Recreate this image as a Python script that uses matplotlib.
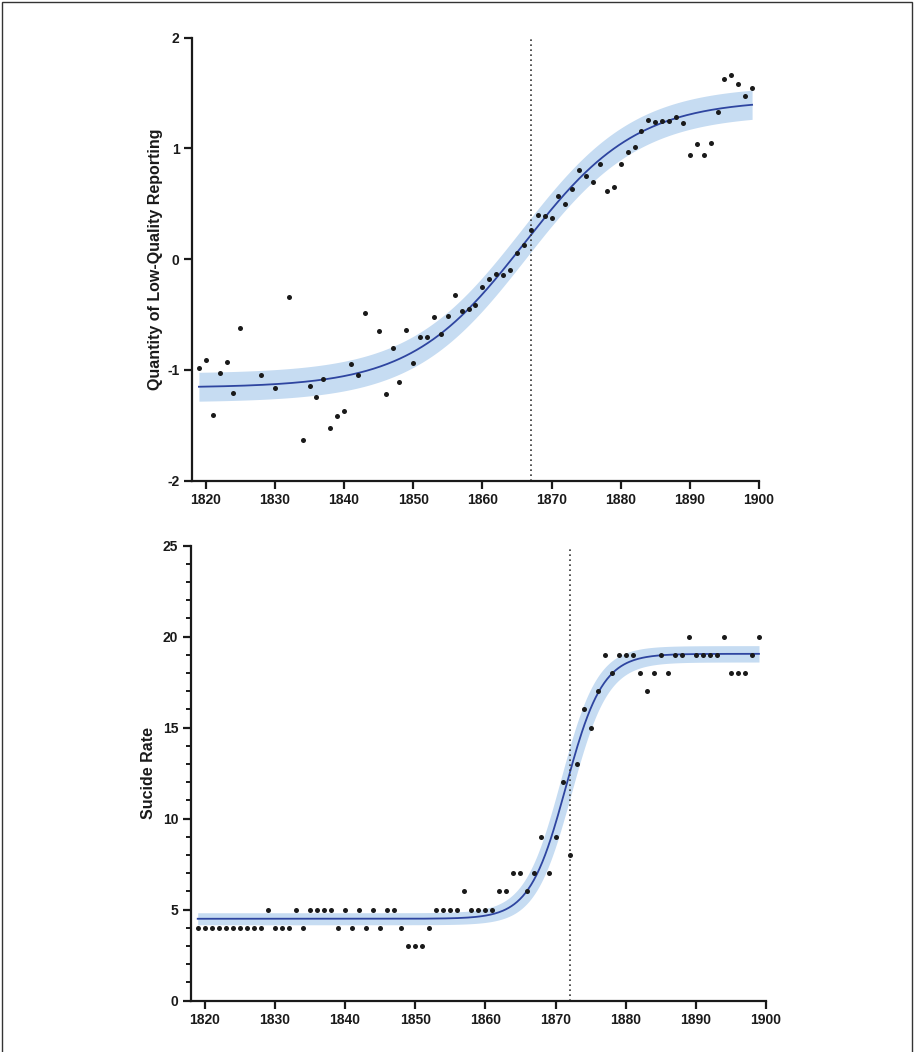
import numpy as np
import matplotlib
matplotlib.use("Agg")
import matplotlib.pyplot as plt
from matplotlib.patches import Rectangle
from matplotlib.ticker import MultipleLocator

plt.rcParams["font.family"] = ["Liberation Sans", "DejaVu Sans"]
plt.rcParams["font.weight"] = "bold"
plt.rcParams["axes.unicode_minus"] = False

# ---- data: top panel (low-quality reporting) ----
years_top = [1819, 1820, 1821, 1822, 1823, 1824, 1825, 1828, 1830, 1832,
             1834, 1835, 1836, 1837, 1838, 1839, 1840, 1841, 1842, 1843,
             1845, 1846, 1847, 1848, 1849, 1850, 1851, 1852, 1853, 1854,
             1855, 1856, 1857, 1858, 1859, 1860, 1861, 1862, 1863, 1864,
             1865, 1866, 1867, 1868, 1869, 1870, 1871, 1872, 1873, 1874,
             1875, 1876, 1877, 1878, 1879, 1880, 1881, 1882, 1883, 1884,
             1885, 1886, 1887, 1888, 1889, 1890, 1891, 1892, 1893, 1894,
             1895, 1896, 1897, 1898, 1899]
quality = [-0.985, -0.907, -1.41, -1.025, -0.928, -1.21, -0.624, -1.05, -1.166, -0.34,
           -1.63, -1.145, -1.244, -1.085, -1.524, -1.419, -1.371, -0.949, -1.049, -0.483,
           -0.652, -1.217, -0.805, -1.112, -0.639, -0.937, -0.703, -0.703, -0.525, -0.678,
           -0.513, -0.323, -0.465, -0.447, -0.414, -0.254, -0.182, -0.137, -0.14, -0.095,
           0.059, 0.127, 0.26, 0.402, 0.393, 0.369, 0.571, 0.496, 0.637, 0.805,
           0.751, 0.694, 0.857, 0.613, 0.655, 0.86, 0.968, 1.013, 1.158, 1.257,
           1.239, 1.245, 1.248, 1.284, 1.227, 0.941, 1.037, 0.941, 1.049, 1.332,
           1.63, 1.665, 1.585, 1.475, 1.55]

# ---- data: bottom panel (suicide rate) ----
years_bot = list(range(1819, 1900))
suicide = [4, 4, 4, 4, 4, 4, 4, 4, 4, 4,       # 1819-1828
           5, 4, 4, 4, 5, 4, 5, 5, 5, 5,       # 1829-1838
           4, 5, 4, 5, 4, 5, 4, 5, 5, 4,       # 1839-1848
           3, 3, 3, 4, 5, 5, 5, 5, 6, 5,       # 1849-1858
           5, 5, 5, 6, 6, 7, 7, 6, 7, 9,       # 1859-1868
           7, 9, 12, 8, 13, 16, 15, 17, 19, 18,  # 1869-1878
           19, 19, 19, 18, 17, 18, 19, 18, 19, 19,  # 1879-1888
           20, 19, 19, 19, 19, 20, 18, 18, 18, 19,  # 1889-1898
           20]                                  # 1899

# sigmoid fits: bottom, top, midpoint, scale
fit_top = dict(bottom=-1.16, top=1.44, x0=1866.0, s=8.2)
band_top = dict(db=0.13, dt=0.13, dx=0.3)
fit_bot = dict(bottom=4.5, top=19.05, x0=1871.5, s=2.6)
band_bot = dict(db=0.33, dt=0.45, dx=0.75)

vline_top = 1867
vline_bot = 1872

BAND = "#c6dcf2"
LINE = "#2e45a0"
DOT = "#1a1a1a"
INK = "#1a1a1a"


def logistic(x, bottom, top, x0, s):
    return bottom + (top - bottom) / (1 + np.exp((x0 - x) / s))


def draw_panel(ax, years, vals, fit, band, vline, ylim, ylabel):
    xs = np.linspace(1819, 1899, 400)
    upper = logistic(xs, fit["bottom"] + band["db"], fit["top"] + band["dt"],
                     fit["x0"] - band["dx"], fit["s"])
    lower = logistic(xs, fit["bottom"] - band["db"], fit["top"] - band["dt"],
                     fit["x0"] + band["dx"], fit["s"])
    ax.fill_between(xs, lower, upper, color=BAND, lw=0, zorder=1)
    ax.plot(xs, logistic(xs, **fit), color=LINE, lw=1.3, zorder=2)
    ax.axvline(vline, color="#333333", lw=1.2, ls=(0, (1, 2)), zorder=2)
    ax.scatter(years, vals, s=13, color=DOT, lw=0, zorder=3)

    ax.set_xlim(1818, 1900)
    ax.set_ylim(*ylim)
    ax.set_xticks(range(1820, 1901, 10))
    ax.spines["top"].set_visible(False)
    ax.spines["right"].set_visible(False)
    for side in ("left", "bottom"):
        ax.spines[side].set_linewidth(1.6)
        ax.spines[side].set_color(INK)
    ax.tick_params(which="major", length=6, width=1.6, color=INK,
                   labelcolor=INK, labelsize=10, pad=3)
    ax.tick_params(which="minor", length=3.5, width=1.4, color=INK)
    for lab in ax.get_xticklabels() + ax.get_yticklabels():
        lab.set_fontweight("bold")
    ax.set_ylabel(ylabel, fontsize=11.5, fontweight="bold", color=INK)


fig = plt.figure(figsize=(9.15, 10.52), dpi=100)
W, H = 915, 1052

ax1 = fig.add_axes([192 / W, 1 - 480.7 / H, (759 - 192) / W, (480.7 - 37.7) / H])
draw_panel(ax1, years_top, quality, fit_top, band_top, vline_top, (-2, 2),
           "Quantity of Low-Quality Reporting")
ax1.set_yticks([-2, -1, 0, 1, 2])
ax1.yaxis.set_label_coords(-0.052, 0.5)

ax2 = fig.add_axes([190.7 / W, 1 - 1000.7 / H, (766 - 190.7) / W, (1000.7 - 545.5) / H])
draw_panel(ax2, years_bot, suicide, fit_bot, band_bot, vline_bot, (0, 25),
           "Sucide Rate")
ax2.set_yticks(range(0, 26, 5))
ax2.yaxis.set_minor_locator(MultipleLocator(1))
ax2.yaxis.set_label_coords(-0.06, 0.5)

# frame around the figure (left, top, right edges)
fig.patches.append(Rectangle((2 / W, -0.01), (912 - 2) / W, 1.01 - 2 / H,
                             transform=fig.transFigure, fill=False,
                             edgecolor="#333333", lw=1.0))

fig.savefig("out.png", dpi=100)
